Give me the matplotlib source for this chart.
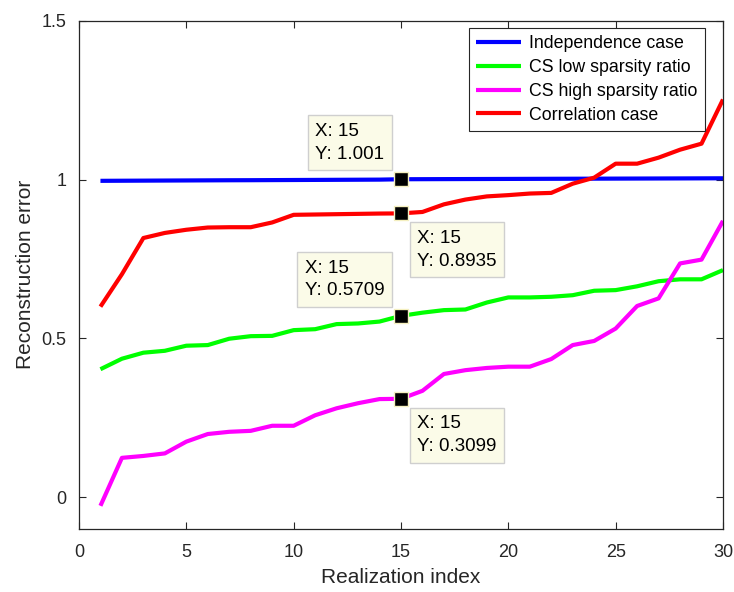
import numpy as np
import matplotlib
matplotlib.use("Agg")
import matplotlib.pyplot as plt

plt.rcParams['font.family'] = ['Liberation Sans', 'DejaVu Sans']

# Data
realization = np.arange(1, 31)
independence = [0.996, 0.9963, 0.9966, 0.9969, 0.9972, 0.9975, 0.9978, 0.998, 0.9983, 0.9986,
                0.9989, 0.9992, 0.9995, 0.9998, 1.001, 1.0012, 1.0014, 1.0016, 1.0018, 1.002,
                1.0022, 1.0024, 1.0026, 1.0028, 1.003, 1.0032, 1.0034, 1.0036, 1.0038, 1.004]
cs_low = [0.403, 0.436, 0.455, 0.461, 0.477, 0.479, 0.499, 0.507, 0.508, 0.526,
          0.529, 0.545, 0.547, 0.553, 0.5709, 0.581, 0.589, 0.591, 0.613, 0.629,
          0.629, 0.631, 0.636, 0.650, 0.652, 0.664, 0.680, 0.686, 0.686, 0.715]
cs_high = [-0.027, 0.124, 0.130, 0.138, 0.175, 0.199, 0.206, 0.209, 0.225, 0.225,
           0.258, 0.280, 0.296, 0.309, 0.3099, 0.335, 0.388, 0.400, 0.407, 0.411,
           0.411, 0.435, 0.479, 0.492, 0.531, 0.602, 0.626, 0.736, 0.748, 0.870]
correlation = [0.600, 0.702, 0.816, 0.832, 0.842, 0.849, 0.850, 0.850, 0.865, 0.889,
               0.890, 0.891, 0.892, 0.893, 0.8935, 0.898, 0.922, 0.937, 0.947, 0.951,
               0.956, 0.958, 0.987, 1.006, 1.050, 1.050, 1.069, 1.094, 1.113, 1.252]

series = [
    ("Independence case", independence, '#0000ff'),
    ("CS low sparsity ratio", cs_low, '#00ff00'),
    ("CS high sparsity ratio", cs_high, '#ff00ff'),
    ("Correlation case", correlation, '#ff0000'),
]

# data tips at x = 15: (series values, label text, corner direction)
tip_x = 15
tips = [
    (independence, "X: 15\nY: 1.001", 'upleft'),
    (correlation, "X: 15\nY: 0.8935", 'downright'),
    (cs_low, "X: 15\nY: 0.5709", 'upleft'),
    (cs_high, "X: 15\nY: 0.3099", 'downright'),
]

fig = plt.figure(figsize=(7.34, 5.92), dpi=100)
ax = fig.add_axes([0.1076, 0.1064, 0.985 - 0.1076, 0.965 - 0.1064])

for name, vals, col in series:
    ax.plot(realization, vals, color=col, linewidth=3, label=name, solid_capstyle='butt')

ax.set_xlim(0, 30)
ax.set_ylim(-0.1, 1.5)
ax.set_xticks([0, 5, 10, 15, 20, 25, 30])
ax.set_yticks([0, 0.5, 1, 1.5])
ax.set_yticklabels(['0', '0.5', '1', '1.5'])
ax.tick_params(direction='in', length=5, width=0.8, top=True, right=True,
               labelsize=13, colors='#262626')
ax.tick_params(axis='x', pad=11)
ax.tick_params(axis='y', pad=9)
for sp in ax.spines.values():
    sp.set_color('#262626')
    sp.set_linewidth(0.9)

ax.set_xlabel("Realization index", fontsize=15, color='#262626', labelpad=5)
ax.set_ylabel("Reconstruction error", fontsize=15, color='#262626', labelpad=5)

leg = ax.legend(loc='upper right', bbox_to_anchor=(0.972, 0.985), fontsize=12.8,
                handlelength=2.5, handletextpad=0.5, borderpad=0.4, labelspacing=0.38,
                fancybox=False, framealpha=1, edgecolor='#262626', borderaxespad=0)
leg.get_frame().set_linewidth(0.8)

off = 16.5
for vals, txt, where in tips:
    y = vals[tip_x - 1]
    ax.plot(tip_x, y, marker='s', markersize=10, color='black',
            markeredgecolor='#f5f0c0', markeredgewidth=1.0, zorder=5)
    if where == 'upleft':
        xy_off, ha, va = (-off, off), 'right', 'bottom'
    else:
        xy_off, ha, va = (off, -off), 'left', 'top'
    ax.annotate(txt, xy=(tip_x, y), xytext=xy_off, textcoords='offset pixels',
                ha=ha, va=va, multialignment='left', fontsize=13.5, color='black',
                linespacing=1.45,
                bbox=dict(boxstyle='square,pad=0.4', fc='#fbfbe8', ec='#cfcfcf', lw=1),
                zorder=6)

fig.savefig("out.png", dpi=100, facecolor='white')
